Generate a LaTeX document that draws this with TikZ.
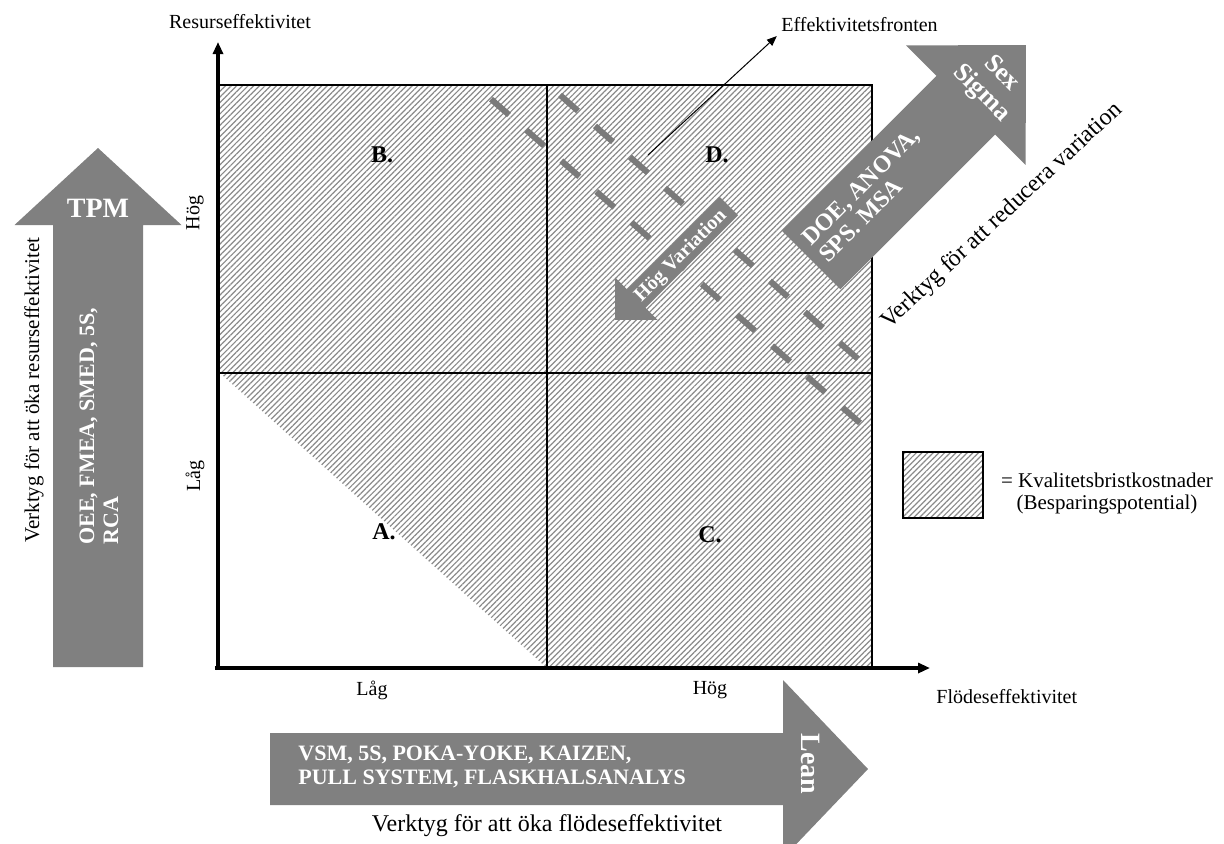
\documentclass[tikz,border=0pt]{standalone}
\usepackage{fontspec}
\setmainfont{Liberation Serif}
\usetikzlibrary{arrows.meta,patterns.meta}
\definecolor{tool}{HTML}{808080}
\definecolor{dashgray}{HTML}{7A7A7A}
\definecolor{hatch}{HTML}{8A8A8A}
\tikzset{
  every node/.style={font=\fontsize{10}{12}\selectfont,text=black},
  axis/.style={-{Triangle[length=6pt,width=5pt]},line width=1.6pt},
  quadline/.style={line width=.6pt},
  hatched/.style={pattern={Lines[angle=45,distance=2pt,line width=.6pt]},pattern color=hatch},
  toolarrow/.style={fill=tool},
  variation/.style={draw=dashgray,line width=3pt,dash pattern=on 12pt off 11.37pt},
  frontarrow/.style={-{Triangle[length=5pt,width=4pt]},line width=.5pt},
  tooltext/.style={font=\bfseries\fontsize{11}{12}\selectfont,text=white,align=left,inner sep=0},
  tooltitle/.style={font=\bfseries\fontsize{14}{15}\selectfont,text=white,align=center,inner sep=0},
  caption/.style={font=\fontsize{12}{14}\selectfont,inner sep=0},
  level/.style={font=\fontsize{10}{12}\selectfont,inner sep=0},
  quad/.style={font=\bfseries\fontsize{12}{14}\selectfont,inner sep=0}
}
\begin{document}
\begin{tikzpicture}[x=.5pt,y=-.5pt]
  \path[use as bounding box] (0,0) rectangle (1224,843);

  % matrix of the four fields
  \fill[hatched] (220,85) -- (872,85) -- (872,668) -- (547,668) -- (220,373) -- cycle;
  \draw[quadline] (220,85) -- (872,85) -- (872,668);
  \draw[quadline] (220,373) -- (872,373);
  \draw[quadline] (547,85) -- (547,668);

  % efficiency front
  \coordinate (d1s) at (491,99.1);
  \coordinate (d1e) at (860,422.9);
  \coordinate (d2s) at (560,95);
  \coordinate (d2e) at (858,359);
  \draw[variation] (d1s) -- (d1e);
  \draw[variation] (d2s) -- (d2e);

  \node[quad] (qa) at (384,532) {A.};
  \node[quad] (qb) at (382,155) {B.};
  \node[quad] (qc) at (710,535) {C.};
  \node[quad] (qd) at (717,155) {D.};

  % axes
  \coordinate (origin) at (218,668);
  \coordinate (ytip) at (218,42);
  \coordinate (xtip) at (930,668);
  \draw[axis] ([yshift=-1]origin) -- (ytip);
  \draw[axis] ([xshift=-1.6pt]origin) -- (xtip);
  \node[level] (yname) at (240,22) {Resurseffektivitet};
  \node[level,anchor=west] (xname) at (936,697) {Flödeseffektivitet};
  \node[level,rotate=90] (yhigh) at (195,213) {Hög};
  \node[level,rotate=90] (ylow) at (195,476) {Låg};
  \node[level] (xlow) at (372,690) {Låg};
  \node[level] (xhigh) at (710,690) {Hög};

  % arrow to the front label
  \coordinate (front) at (648,155);
  \node[level,anchor=south west,inner sep=1pt] (fronttext) at (779,34) {Effektivitetsfronten};
  \draw[frontarrow,shorten >=1.5pt] (front) -- (fronttext.south west);

  % high variation
  \begin{scope}[shift={(729,206)},rotate=225]
    \fill[toolarrow] (0,-13) -- (131,-13) -- (131,-30) -- (161,0) -- (131,30) -- (131,13) -- (0,13) -- cycle;
  \end{scope}
  \node[tooltext,font=\bfseries\fontsize{10}{12}\selectfont,rotate=45] (hogvar) at (681,256) {Hög Variation};

  % Sex Sigma
  \begin{scope}[shift={(811,260)},rotate=45]
    \fill[toolarrow] (0,-41.5) -- (219,-41.5) -- (219,-84.5) -- (304,0) -- (219,84.5) -- (219,41.5) -- (0,41.5) -- cycle;
  \end{scope}
  \node[tooltext,font=\bfseries\fontsize{12}{12}\selectfont,rotate=45,anchor=west] (sixtools) at (814,250) {DOE, ANOVA,\\SPS. MSA};
  \node[tooltitle,font=\bfseries\fontsize{13}{14}\selectfont,rotate=-45] (sixsigma) at (991,84) {Sex\\Sigma};
  \node[caption,rotate=43] (sixcap) at (1002,216) {Verktyg för att reducera variation};

  % TPM
  \begin{scope}[shift={(98,667)},rotate=90]
    \fill[toolarrow] (0,-45) -- (442,-45) -- (442,-83.5) -- (519,0) -- (442,83.5) -- (442,45) -- (0,45) -- cycle;
  \end{scope}
  \node[tooltitle] (tpm) at (98,208) {TPM};
  \node[tooltext,rotate=90,anchor=west] (tpmtools) at (99,545) {OEE, FMEA, SMED, 5S,\\RCA};
  \node[caption,font=\fontsize{10.5}{12}\selectfont,rotate=90] (tpmcap) at (34,390) {Verktyg för att öka resurseffektivitet};

  % Lean
  \begin{scope}
    \clip (0,0) rectangle (1224,843);
    \begin{scope}[shift={(270,769)}]
      \fill[toolarrow] (0,-36) -- (513,-36) -- (513,-89) -- (598,0) -- (513,89) -- (513,36) -- (0,36) -- cycle;
    \end{scope}
  \end{scope}
  \node[tooltext,anchor=west] (leantools) at (298,767) {VSM, 5S, POKA-YOKE, KAIZEN,\\PULL SYSTEM, FLASKHALSANALYS};
  \node[tooltitle,rotate=-90] (lean) at (811,764) {Lean};
  \node[caption] (leancap) at (547,826) {Verktyg för att öka flödeseffektivitet};

  % legend
  \node[hatched,draw,line width=.8pt,minimum width=40pt,minimum height=33pt,inner sep=0] (legend) at (943,485) {};
  \node[align=center,inner sep=0,font=\fontsize{10.5}{11}\selectfont] (legendtext) at (1107,493) {= Kvalitetsbristkostnader\\(Besparingspotential)};
\end{tikzpicture}
\end{document}
